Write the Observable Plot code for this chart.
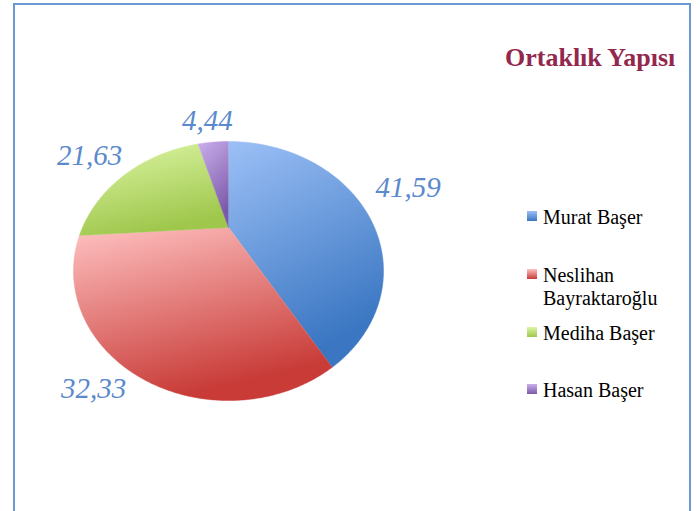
<!DOCTYPE html>
<html>
<head>
<meta charset="utf-8">
<script src="https://cdn.jsdelivr.net/npm/d3@7"></script>
<script src="https://cdn.jsdelivr.net/npm/@observablehq/plot@0.6"></script>
<style>
  html, body { margin: 0; padding: 0; background: #fff; overflow: hidden; }
  #wrap { position: relative; width: 700px; height: 511px; overflow: hidden; font-family: "Liberation Serif", Tinos, "DejaVu Serif", "Noto Serif", serif; }
  #frame { position: absolute; left: 13px; top: 3px; width: 674px; height: 560px; border: 2px solid #6b97d3; }
  #title { position: absolute; left: 505px; top: 45px; font-size: 26px; line-height: 26px; font-weight: bold; color: #93284f; white-space: nowrap; }
  .item { position: absolute; left: 527px; width: 160px; font-size: 20px; line-height: 23px; color: #000; }
  .sw { position: absolute; left: 0; width: 10px; height: 10px; }
  .lt { position: absolute; left: 16px; width: 145px; }
  #chart { position: absolute; left: 0; top: 0; }
</style>
</head>
<body>
<div id="wrap">
  <div id="chart"></div>
  <div id="frame"></div>
  <div id="title"></div>
  <div id="legend"></div>
</div>
<script>
// ---- data ----
const title = "Ortaklık Yapısı";
const names = ["Murat Başer", "Neslihan Bayraktaroğlu", "Mediha Başer", "Hasan Başer"];
const values = [41.59, 32.33, 21.63, 4.44];
const labels = ["41,59", "32,33", "21,63", "4,44"];

// ---- styling ----
const serif = "'Liberation Serif', Tinos, 'DejaVu Serif', 'Noto Serif', serif";
const gradTop = ["#9cc0f6", "#ffc2c2", "#ddf6a6", "#caaeec"];
const gradBot = ["#3a76c2", "#c83b37", "#9fc74c", "#7b59a8"];
const ids = ["gMurat", "gNeslihan", "gMediha", "gHasan"];

// perspective tilt of the pie
const k = 0.336;
const project = (u, v) => { const w = 1 - k * v; return [u / w, v / w]; };

const arcs = d3.pie().sort(null).value((d, i) => values[i])(names);

const polys = [];
arcs.forEach((a, i) => {
  polys.push({name: names[i], X: 0, Y: 0});
  const n = Math.max(4, Math.ceil((a.endAngle - a.startAngle) / 0.01));
  for (let j = 0; j <= n; j++) {
    const t = a.startAngle + (a.endAngle - a.startAngle) * j / n;
    const [X, Y] = project(Math.sin(t), -Math.cos(t));
    polys.push({name: names[i], X, Y});
  }
});

// label positions: outside the rim, pushed away from the ellipse centre
const ecY = k / (1 - k * k), erx = 1 / Math.sqrt(1 - k * k), ery = (1 / (1 - k) + 1 / (1 + k)) / 2;
const labelData = arcs.map((a, i) => {
  const m = (a.startAngle + a.endAngle) / 2;
  const [X, Y] = project(Math.sin(m), -Math.cos(m));
  const ex = X / erx, ey = (Y - ecY) / ery;
  return {text: labels[i], X: X + ex * 0.41, Y: Y + ey * 0.19};
});

const chart = Plot.plot({
  width: 700,
  height: 511,
  margin: 0,
  x: {domain: [-1, 1], range: [82, 374], axis: null},
  y: {domain: [-1, 1], range: [112.1, 341.9], axis: null},
  color: {type: "ordinal", domain: names, range: ids.map(id => `url(#${id})`)},
  style: {background: "transparent", fontFamily: serif},
  marks: [
    Plot.line(polys, {x: "X", y: "Y", z: "name", fill: "name", stroke: "name", strokeWidth: 0.5, curve: "linear"}),
    Plot.text(labelData, {x: "X", y: "Y", text: "text", fontSize: 29, fontStyle: "italic", fill: "#5b89cc", textAnchor: "middle", lineAnchor: "middle", fontFamily: serif})
  ]
});

const defs = d3.select(chart).insert("defs", ":first-child");
ids.forEach((id, i) => {
  const g = defs.append("linearGradient").attr("id", id)
    .attr("x1", 0).attr("y1", 0).attr("x2", 0.35).attr("y2", 1);
  g.append("stop").attr("offset", 0).attr("stop-color", gradTop[i]);
  g.append("stop").attr("offset", 1).attr("stop-color", gradBot[i]);
});
document.getElementById("chart").appendChild(chart);

document.getElementById("title").textContent = title;

const legendTops = [205.5, 263.5, 321.5, 378.5];
const leg = document.getElementById("legend");
names.forEach((n, i) => {
  const item = document.createElement("div");
  item.className = "item";
  item.style.top = legendTops[i] + "px";
  const sw = document.createElement("div");
  sw.className = "sw";
  sw.style.top = "5.5px";
  sw.style.background = `linear-gradient(${gradTop[i]}, ${gradBot[i]})`;
  const t = document.createElement("div");
  t.className = "lt";
  t.textContent = n;
  item.appendChild(sw);
  item.appendChild(t);
  leg.appendChild(item);
});
</script>
</body>
</html>
